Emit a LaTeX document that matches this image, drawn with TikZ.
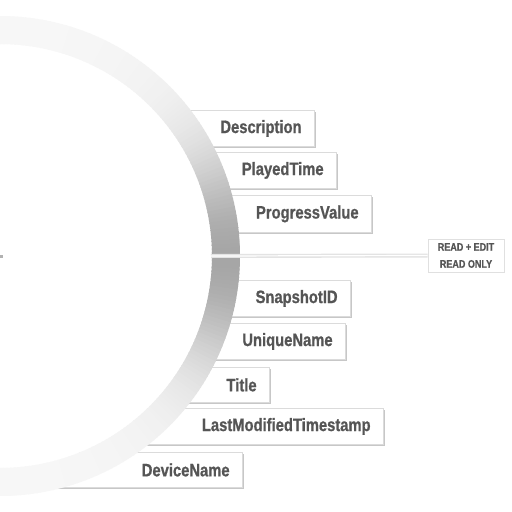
\documentclass[tikz,border=0pt]{standalone}
\usepackage{fontspec}
\newfontfamily\labfont[FakeStretch=0.82,FakeBold=0.8]{Liberation Sans}
\definecolor{labtext}{HTML}{555555}
\tikzset{
  fieldbox/.style={draw=black!14, line width=0.8pt, fill=white, anchor=north east,
    inner xsep=13pt, inner ysep=0pt, align=right, text=labtext,
    font=\labfont\bfseries\fontsize{18}{20}\selectfont,
    preaction={fill=black!22, transform canvas={shift={(1.6pt,-1.6pt)}}}},
  accessbox/.style={draw=black!12, line width=0.6pt, fill=white, align=center, text=labtext,
    inner sep=0pt, minimum width=76pt, minimum height=33pt,
    font=\labfont\bfseries\fontsize{11}{17}\selectfont,
    preaction={fill=black!18, transform canvas={shift={(1.4pt,-1.4pt)}}}},
  hubline/.style={line width=4pt, draw=black!11},
  hubcore/.style={line width=1.2pt, draw=white}
}
\begin{document}
\begin{tikzpicture}[x=1pt,y=-1pt]
\fill[white] (0,0) rectangle (512,512);
\useasboundingbox (0,0) rectangle (512,512);
% field boxes (left parts hidden under the arc)
\node[fieldbox, minimum width=140pt, minimum height=36pt, text width=114pt] (desc) at (315,110) {Description};
\node[fieldbox, minimum width=137pt, minimum height=36pt, text width=111pt] (played) at (337,152) {PlayedTime};
\node[fieldbox, minimum width=155pt, minimum height=37pt, text width=129pt] (progress) at (372,195) {ProgressValue};
\node[fieldbox, minimum width=134pt, minimum height=36pt, text width=108pt] (snap) at (351,280) {SnapshotID};
\node[fieldbox, minimum width=146pt, minimum height=36pt, text width=120pt] (unique) at (346,323) {UniqueName};
\node[fieldbox, minimum width=95pt, minimum height=35pt, text width=69pt] (title) at (270,367) {Title};
\node[fieldbox, minimum width=250pt, minimum height=36pt, text width=224pt] (lastmod) at (384,408) {LastModifiedTimestamp};
\node[fieldbox, minimum width=193pt, minimum height=35pt, text width=167pt] (device) at (243,452) {DeviceName};
% interior of the arc
\fill[white] (0,256) circle[radius=212];
% gradient arc band
\foreach \a in {-94,...,93}{
  \pgfmathsetmacro{\c}{cos(\a)}
  \pgfmathsetmacro{\k}{3+4*\c*\c+28*\c*\c*\c*\c*\c*\c*\c*\c*\c*\c}
  \draw[line width=28pt, draw=black!\k] (0,256) ++(\a:226) arc[start angle=\a, end angle=\a+1.3, radius=226];
}
% access box and connector
\node[accessbox] (access) at (466,255.5) {READ + EDIT\\READ ONLY};
\coordinate (hub) at (211,256);
\draw[hubline] (hub) -- (access.west);
\draw[hubcore] (hub) -- (access.west);
\fill[black!30] (0,254.5) rectangle (2.5,257.5);
\end{tikzpicture}
\end{document}
